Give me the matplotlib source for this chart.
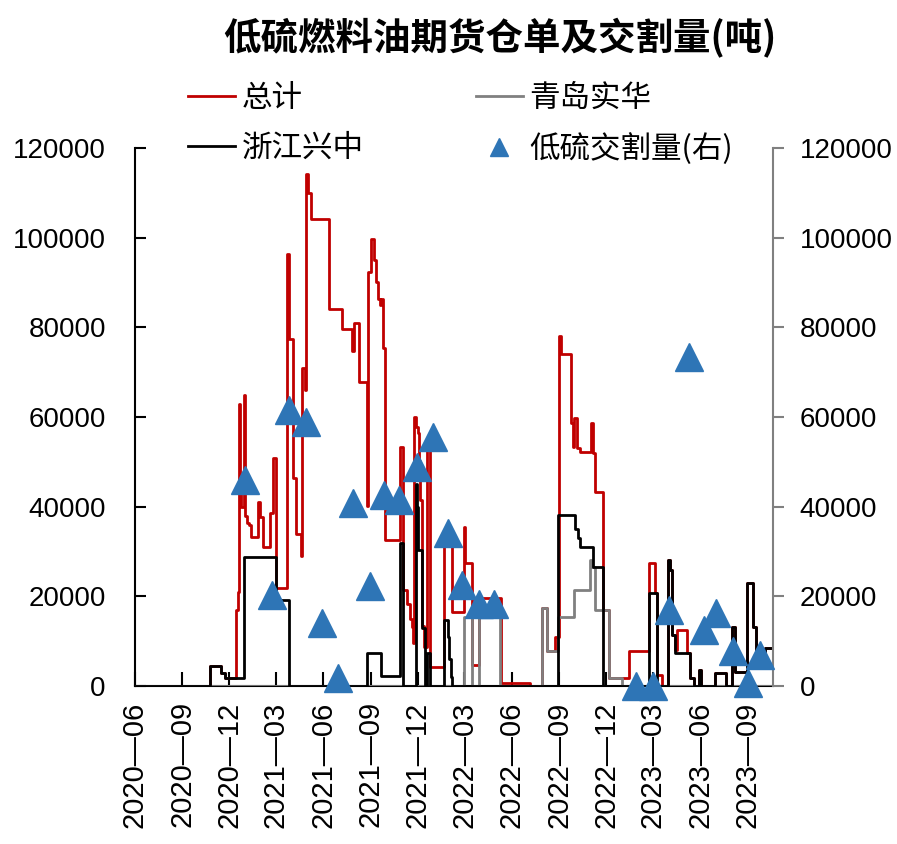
import matplotlib
matplotlib.use("Agg")
import matplotlib.pyplot as plt
from matplotlib.lines import Line2D
import pandas as pd

plt.rcParams["font.family"] = ["Liberation Sans", "Noto Sans CJK SC", "DejaVu Sans"]

TITLE = "低硫燃料油期货仓单及交割量(吨)"
LABELS = ["总计", "青岛实华", "浙江兴中", "低硫交割量(右)"]

# 总计 warehouse receipts (tons), step values from each date on
total_dates = [
    "2020-06-01", "2020-10-24", "2020-11-15", "2020-11-22", "2020-12-14", "2020-12-17",
    "2020-12-20", "2020-12-22", "2020-12-24", "2020-12-29", "2021-01-01", "2021-01-04",
    "2021-01-08", "2021-01-12", "2021-01-26", "2021-01-29", "2021-02-04", "2021-02-17",
    "2021-02-23", "2021-03-01", "2021-03-23", "2021-03-26", "2021-04-03", "2021-04-09",
    "2021-04-19", "2021-04-21", "2021-04-26", "2021-04-29", "2021-05-02", "2021-05-07",
    "2021-06-11", "2021-07-07", "2021-07-27", "2021-07-30", "2021-08-09", "2021-08-24",
    "2021-08-26", "2021-09-01", "2021-09-07", "2021-09-11", "2021-09-14", "2021-09-18",
    "2021-09-21", "2021-09-24", "2021-09-28", "2021-10-27", "2021-11-02", "2021-11-09",
    "2021-11-15", "2021-11-19", "2021-11-22", "2021-11-24", "2021-11-28", "2021-12-01",
    "2021-12-03", "2021-12-05", "2021-12-09", "2021-12-12", "2021-12-19", "2021-12-25",
    "2022-01-20", "2022-02-05", "2022-02-28", "2022-03-03", "2022-03-16", "2022-03-29",
    "2022-05-12", "2022-07-07", "2022-07-29", "2022-08-08", "2022-08-24", "2022-08-31",
    "2022-09-04", "2022-09-24", "2022-09-27", "2022-09-30", "2022-10-06", "2022-10-12",
    "2022-11-02", "2022-11-05", "2022-11-10", "2022-11-25", "2022-12-07", "2023-01-14",
    "2023-02-21", "2023-03-06", "2023-03-10", "2023-03-19", "2023-03-31", "2023-04-03",
    "2023-04-07", "2023-04-13", "2023-04-17", "2023-05-07", "2023-05-12", "2023-05-19",
    "2023-05-30", "2023-06-02", "2023-06-30", "2023-07-21", "2023-08-01", "2023-08-08",
    "2023-08-30", "2023-09-12", "2023-09-17", "2023-10-05", "2023-10-18",
]
total_values = [
    0, 4500, 2900, 1800, 17000, 21000,
    63000, 43000, 40000, 64900, 38000, 36300,
    35900, 33300, 41100, 37800, 31100, 38500,
    50800, 21800, 96400, 77400, 46400, 34000,
    29000, 71000, 66000, 114300, 110000, 104200,
    84200, 79600, 74700, 81000, 67900, 40100,
    92400, 99600, 95000, 90200, 86400, 85000,
    86400, 75500, 32500, 53400, 21400, 18400,
    15000, 13200, 9600, 60000, 57800, 56400,
    50200, 41500, 13400, 8700, 54900, 4300,
    32000, 16500, 35400, 27400, 4700, 19600,
    700, 0, 17300, 7700, 11000, 78000,
    74000, 58600, 53400, 59700, 53000, 52300,
    58600, 52000, 43300, 17000, 1800, 7700,
    27400, 20700, 2500, 0, 28100, 25900,
    11400, 8000, 12600, 7300, 1800, 0,
    3500, 0, 2900, 0, 13200, 3200,
    22900, 13200, 4000, 8400, 8400,
]

# 青岛实华
qd_dates = [
    "2020-06-01", "2022-02-28", "2022-03-15", "2022-03-29", "2022-05-10", "2022-07-29",
    "2022-08-08", "2022-08-30", "2022-09-29", "2022-10-31", "2022-11-04", "2022-11-10",
    "2022-12-06", "2023-01-01", "2023-10-18",
]
qd_values = [
    0, 15400, 0, 15400, 0, 17300,
    7700, 15500, 21400, 28100, 26600, 17000,
    1700, 0, 0,
]

# 浙江兴中
zj_dates = [
    "2020-06-01", "2020-10-24", "2020-11-15", "2020-11-22", "2020-12-30", "2021-03-01",
    "2021-03-27", "2021-08-25", "2021-09-21", "2021-10-28", "2021-11-03", "2021-11-28",
    "2021-11-30", "2021-12-02", "2021-12-09", "2021-12-15", "2021-12-19", "2021-12-25",
    "2022-01-20", "2022-01-28", "2022-01-31", "2022-02-03", "2022-02-05", "2022-08-30",
    "2022-10-02", "2022-10-07", "2022-10-12", "2022-11-05", "2022-11-25", "2023-02-22",
    "2023-03-10", "2023-03-31", "2023-04-03", "2023-04-07", "2023-04-13", "2023-05-12",
    "2023-05-19", "2023-05-30", "2023-06-02", "2023-06-30", "2023-07-21", "2023-08-01",
    "2023-08-08", "2023-08-30", "2023-09-12", "2023-09-17", "2023-10-05", "2023-10-18",
]
zj_values = [
    0, 4500, 2900, 1800, 28800, 19200,
    0, 7300, 2200, 31900, 0, 45000,
    40000, 30300, 13000, 0, 7300, 0,
    14700, 11000, 6000, 2000, 0, 38100,
    35000, 33000, 31000, 26600, 0, 20700,
    0, 28100, 25900, 11400, 7300, 1800,
    0, 3500, 0, 2900, 0, 13200,
    3200, 22900, 13200, 4000, 8400, 8400,
]

# 低硫交割量 (right axis)
delivery_dates = [
    "2021-01-01", "2021-02-22", "2021-03-27", "2021-04-29", "2021-05-30", "2021-06-30",
    "2021-07-29", "2021-08-31", "2021-09-27", "2021-10-26", "2021-11-30", "2021-12-31",
    "2022-01-29", "2022-02-25", "2022-03-30", "2022-04-28", "2023-01-28", "2023-03-01",
    "2023-04-02", "2023-05-10", "2023-06-09", "2023-07-02", "2023-08-04", "2023-09-02",
    "2023-09-25",
]
delivery_values = [
    46000, 20300, 61500, 58900, 14000, 1800,
    40800, 22300, 42600, 41500, 48800, 55500,
    34100, 22500, 18300, 18300, 0, 0,
    17000, 73400, 12500, 16300, 7800, 700,
    7000,
]

tick_months = pd.date_range("2020-06-01", "2023-09-01", freq="3MS")
yticks = list(range(0, 120001, 20000))

RED, GREY, BLACK, BLUE = "#C00000", "#808080", "#000000", "#2E75B6"

fig = plt.figure(figsize=(8.97, 8.44), dpi=100)
ax = fig.add_axes([135 / 897, 1 - 686 / 844, 638 / 897, 538 / 844])
ax2 = ax.twinx()

ax.plot(pd.to_datetime(total_dates), total_values, color=RED, lw=2, drawstyle="steps-post", zorder=2)
ax.plot(pd.to_datetime(qd_dates), qd_values, color=GREY, lw=2, drawstyle="steps-post", zorder=3)
ax.plot(pd.to_datetime(zj_dates), zj_values, color=BLACK, lw=2, drawstyle="steps-post", zorder=4)
ax2.plot(pd.to_datetime(delivery_dates), delivery_values, ls="none", marker="^", ms=20,
         color=BLUE, clip_on=False, zorder=5)

ax.set_xlim(pd.Timestamp("2020-06-01"), pd.Timestamp("2023-10-20"))
for a in (ax, ax2):
    a.set_ylim(0, 120000)
    a.set_yticks(yticks)
ax.set_xticks(tick_months)
ax.set_xticklabels([d.strftime("%Y—%m") for d in tick_months], rotation=90)

ax.tick_params(axis="y", direction="in", length=8, width=1.5, labelsize=20, pad=21)
ax.tick_params(axis="x", direction="in", length=10, width=1.5, labelsize=21, pad=11)
ax2.tick_params(axis="y", direction="out", length=8, width=1.5, color=GREY, labelsize=20, pad=11)

for s in ("top", "right"):
    ax.spines[s].set_visible(False)
for s in ("top", "left", "bottom"):
    ax2.spines[s].set_visible(False)
ax.spines["left"].set_linewidth(1.5)
ax.spines["bottom"].set_linewidth(1.5)
ax2.spines["right"].set_color(GREY)
ax2.spines["right"].set_linewidth(1.5)

handles = [
    Line2D([], [], color=RED, lw=2),
    Line2D([], [], color=BLACK, lw=2),
    Line2D([], [], color=GREY, lw=2),
    Line2D([], [], ls="none", marker="^", ms=13, color=BLUE),
]
fig.legend(handles, [LABELS[0], LABELS[2], LABELS[1], LABELS[3]], ncol=2,
           loc="upper left", bbox_to_anchor=(188 / 897, 1 - 83 / 844), frameon=False,
           prop={"family": ["Noto Sans CJK SC"], "size": 22}, handlelength=1.55,
           handletextpad=0.2, columnspacing=3.67, labelspacing=0.62, borderpad=0,
           borderaxespad=0)

fig.text(500 / 897, 1 - 38 / 844, TITLE, ha="center", va="center", fontsize=27,
         fontweight="bold", family=["Noto Sans CJK SC"])

fig.savefig("out.png", dpi=100)
